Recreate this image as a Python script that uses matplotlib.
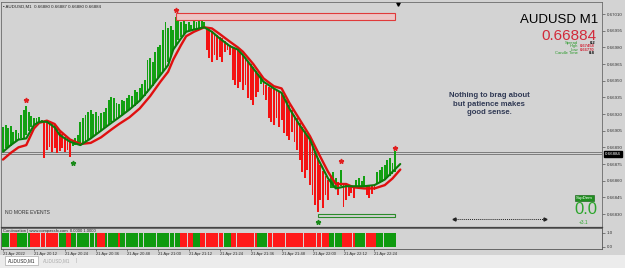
import matplotlib
matplotlib.use('Agg')
import matplotlib.pyplot as plt
import matplotlib.transforms as mtransforms
from matplotlib.patches import Rectangle
import numpy as np

W, H = 625, 268
plt.rcParams['font.family'] = ['Liberation Sans', 'DejaVu Sans']

# --- M1 bars, prices in 1e-5 units ---
lows = [66887, 66889, 66890, 66891, 66894, 66896, 66897, 66898, 66898, 66901, 66905, 66908, 66910, 66912, 66913, 66913,
        66880, 66888, 66890, 66886, 66889, 66885, 66887, 66889, 66886, 66888, 66881,
        66891, 66892, 66892, 66893, 66894, 66895, 66897, 66898, 66899, 66901, 66903, 66905, 66907, 66909, 66911, 66913,
        66915, 66916, 66916, 66918, 66920, 66922, 66924, 66925, 66927, 66929, 66932, 66934, 66936, 66939, 66943, 66945,
        66949, 66952, 66955, 66959, 66962, 66967, 66971, 66978, 66982, 66987, 66989, 66992, 66994, 66995, 66995, 66996,
        66997, 66997, 66997, 66998,
        66978, 66970, 66967, 66973, 66969, 66971, 66967, 66976, 66978, 66973, 66951, 66946, 66943, 66949, 66942, 66946,
        66934, 66933, 66928, 66935, 66940, 66947, 66937, 66933, 66916, 66913, 66910, 66916, 66908, 66915, 66903, 66900,
        66897, 66904, 66895, 66888, 66879, 66868, 66862, 66870, 66856, 66847, 66838, 66832, 66843, 66835, 66847, 66843,
        66853, 66853, 66853, 66847, 66855, 66836, 66843, 66846, 66849, 66844, 66853, 66853, 66854, 66854, 66847, 66844,
        66848, 66852, 66857, 66858, 66859, 66861, 66862, 66864, 66866, 66868]
highs = [66908, 66910, 66907, 66909, 66904, 66906, 66903, 66919, 66924, 66927, 66922, 66918, 66916, 66916, 66917, 66915,
         66914, 66914, 66914, 66913, 66911, 66907, 66905, 66902, 66899, 66898, 66897,
         66897, 66898, 66901, 66913, 66916, 66919, 66922, 66924, 66920, 66922, 66918, 66921, 66922, 66925, 66933, 66935,
         66934, 66930, 66929, 66933, 66932, 66934, 66937, 66936, 66942, 66940, 66943, 66947, 66951, 66969, 66970, 66967,
         66976, 66980, 66982, 66996, 67003, 66997, 66999, 66996, 67007, 67006, 67003, 67005, 67001, 67003, 67000, 67005,
         67003, 67004, 67005, 67003,
         66997, 66997, 66995, 66993, 66991, 66989, 66988, 66986, 66984, 66982, 66980, 66979, 66978, 66976, 66973, 66970,
         66968, 66965, 66962, 66959, 66956, 66955, 66949, 66946, 66944, 66943, 66943, 66942, 66941, 66939, 66936, 66933,
         66928, 66924, 66919, 66916, 66912, 66908, 66905, 66901, 66897, 66892, 66886, 66880, 66874, 66869, 66864, 66861,
         66864, 66868, 66862, 66859, 66870, 66858, 66857, 66856, 66856, 66855, 66861, 66862, 66860, 66864, 66856, 66855,
         66856, 66857, 66868, 66870, 66872, 66874, 66879, 66880, 66876, 66887]
bar_runs = [('g', 16), ('r', 11), ('g', 52), ('r', 21), ('g', 1), ('r', 26), ('g', 3), ('r', 1), ('g', 1),
            ('r', 5), ('g', 4), ('r', 4), ('g', 8)]

# moving averages (green fast, red slow)
ma_bars = [0, 3, 6, 9, 12, 14, 17, 20, 22, 26, 30, 34, 38, 42, 45, 49, 53, 57, 61, 64, 66, 69, 71, 74, 78, 81,
           84, 88, 91, 93, 97, 101, 105, 108, 111, 115, 119, 122, 126, 129, 133, 136, 140, 144, 148, 151, 154]
ma_fast = [66886, 66892, 66897, 66898, 66910, 66913, 66913, 66908, 66901, 66895, 66892, 66898, 66905, 66912, 66917,
           66924, 66932, 66943, 66955, 66964, 66978, 66988, 66994, 66996, 66998, 66994, 66988, 66981, 66978, 66973,
           66961, 66949, 66943, 66939, 66925, 66910, 66897, 66880, 66862, 66853, 66855, 66855, 66855, 66856, 66861,
           66868, 66875]
ma_slow = [66879, 66885, 66890, 66892, 66907, 66912, 66914, 66911, 66905, 66897, 66893, 66894, 66899, 66906, 66911,
           66917, 66925, 66936, 66949, 66958, 66969, 66982, 66990, 66994, 66998, 66997, 66992, 66985, 66980, 66976,
           66965, 66952, 66945, 66943, 66930, 66915, 66900, 66886, 66868, 66857, 66857, 66854, 66853, 66853, 66856,
           66862, 66870]

# signal arrows
sell_bars = [9, 67, 131, 152]
sell_px = [0.66933, 0.67014, 0.66878, 0.66889]
buy_bars = [27, 122]
buy_px = [0.66876, 0.66823]

# supply / demand zones
zone_start = [67, 122]
zone_end = [152, 152]
zone_lo = [0.67005, 0.66827]
zone_hi = [0.67011, 0.66830]

# continuation sub-window
sub_runs = [('g', 3), ('r', 3), ('g', 5), ('r', 11), ('g', 3), ('r', 2), ('g', 10), ('r', 3), ('g', 5), ('r', 1),
            ('g', 23), ('r', 5), ('g', 3), ('r', 9), ('g', 3), ('r', 10), ('g', 4), ('r', 24), ('g', 5), ('r', 5),
            ('g', 4), ('r', 4), ('g', 8)]

price_ticks = [0.67010, 0.66995, 0.66980, 0.66965, 0.66950, 0.66935, 0.66920, 0.66905, 0.66890, 0.66875,
               0.66860, 0.66845, 0.66830]
time_ticks = [0, 12, 24, 36, 48, 60, 72, 84, 96, 108, 120, 132, 144]
time_labels = ['21 Apr 2022', '21 Apr 20:12', '21 Apr 20:24', '21 Apr 20:36', '21 Apr 20:48', '21 Apr 21:00',
               '21 Apr 21:12', '21 Apr 21:24', '21 Apr 21:36', '21 Apr 21:48', '21 Apr 22:00', '21 Apr 22:12',
               '21 Apr 22:24']
bid = 0.66884
ask = 0.66886

BG = '#d3d3d3'
GREEN = '#12a012'
RED = '#f41212'


def expand(runs):
    out = []
    for c, n in runs:
        out += [c] * n
    return out


def fx(x):
    return x / W


def fy(y):
    return 1 - y / H


lo = np.array(lows) / 1e5
hi = np.array(highs) / 1e5
cols = [GREEN if c == 'g' else RED for c in expand(bar_runs)]
idx = np.arange(len(lo))

fig = plt.figure(figsize=(W / 100, H / 100), dpi=100, facecolor=BG)

ax = fig.add_axes([fx(1), fy(227), 601 / W, 225 / H], facecolor=BG)
ax.set_xlim(-0.78, 232.2)
ax.set_ylim(0.668183, 0.670208)

ax.axhline(bid, color='#7c7c7c', lw=0.7, zorder=1)
ax.axhline(ask, color='#7c7c7c', lw=0.7, zorder=1)

ax.bar(idx, hi - lo, bottom=lo, width=0.72, color=cols, linewidth=0, zorder=2)
ax.plot(ma_bars, np.array(ma_slow) / 1e5, color='#e01010', lw=1.7, zorder=3, solid_capstyle='round')
ax.plot(ma_bars, np.array(ma_fast) / 1e5, color='#0b7a0b', lw=1.5, zorder=4, solid_capstyle='round')

ax.plot(sell_bars, sell_px, ls='none', marker='*', ms=3.5, color='#e02020', zorder=5)
ax.plot(buy_bars, buy_px, ls='none', marker='*', ms=3.5, color='#1a8a1a', zorder=5)

ax.add_patch(Rectangle((zone_start[0], zone_lo[0]), zone_end[0] - zone_start[0], zone_hi[0] - zone_lo[0],
                       facecolor='#ecc6c6', edgecolor='#e03a3a', lw=0.8, zorder=2))
ax.add_patch(Rectangle((zone_start[1], zone_lo[1]), zone_end[1] - zone_start[1], zone_hi[1] - zone_lo[1],
                       facecolor=BG, edgecolor='#2a8a2a', lw=0.8, zorder=2))

# dotted range arrow
ax.plot([175, 210], [0.668255, 0.668255], ls=(0, (1, 1)), color='#222222', lw=0.7)
ax.plot([175], [0.668255], marker='<', ms=2.2, color='#222222')
ax.plot([210], [0.668255], marker='>', ms=2.2, color='#222222')

# chart shift marker
trans = mtransforms.blended_transform_factory(ax.transData, ax.transAxes)
ax.plot([153], [0.99], marker='v', ms=2.5, color='black', transform=trans, clip_on=False)

ax.set_xticks([])
ax.yaxis.tick_right()
ax.set_yticks(price_ticks)
ax.set_yticklabels(['%.5f' % p for p in price_ticks])
ax.tick_params(axis='y', labelsize=3.2, length=2, pad=1.5, colors='#333333', width=0.4)
for s in ax.spines.values():
    s.set_color('#6a6a6a')
    s.set_linewidth(0.6)
ax.spines['bottom'].set_color('#444444')
ax.spines['bottom'].set_linewidth(0.9)

ax.annotate('0.66884', xy=(1.0, bid), xycoords=('axes fraction', 'data'), xytext=(2, 0),
            textcoords='offset points', ha='left', va='center', fontsize=3.2, color='white',
            bbox=dict(boxstyle='square,pad=0.25', fc='black', ec='black'))

# sub-window
ax2 = fig.add_axes([fx(1), fy(249), 601 / W, 21 / H], facecolor=BG)
ax2.set_xlim(-0.78, 232.2)
ax2.set_ylim(-0.143, 1.357)
sub_cols = ['#0f9a0f' if c == 'g' else '#ff1a1a' for c in expand(sub_runs)]
ax2.bar(np.arange(len(sub_cols)), 1, width=0.92, color=sub_cols, linewidth=0)
ax2.yaxis.tick_right()
ax2.set_yticks([1.0, 0.0])
ax2.set_yticklabels(['1.0', '0.0'])
ax2.tick_params(axis='y', labelsize=3.2, length=2, pad=1.5, colors='#333333', width=0.4)
ax2.set_xticks(time_ticks)
ax2.set_xticklabels(time_labels, ha='left')
ax2.tick_params(axis='x', labelsize=3.0, length=1.5, pad=1, colors='#333333', width=0.4)
for s in ax2.spines.values():
    s.set_color('#555555')
    s.set_linewidth(0.6)

# texts
fig.text(fx(3), fy(6.5), '\u25aa AUDUSD,M1  0.66880 0.66887 0.66880 0.66884', fontsize=3.2, color='#222222',
         ha='left', va='center')
fig.text(fx(3), fy(231), 'Continuation | www.compassfx.com  0.0000 1.0000', fontsize=3.0, color='#222222',
         ha='left', va='center')
fig.text(fx(5), fy(213), 'NO MORE EVENTS', fontsize=3.6, color='#333333', ha='left', va='center')

fig.text(fx(598), fy(20), 'AUDUSD M1', fontsize=9.5, color='black', ha='right', va='center')
fig.text(fx(596), fy(36.5), '0.66884', fontsize=11, color='#d22a3a', ha='right', va='center')
info = [('Spread', '0.2', 'black', 43), ('High', '0.67458', '#d22a3a', 46.3),
        ('Low', '0.66770', '#d22a3a', 49.6), ('Candle Time', '0:8', 'black', 52.9)]
for lab, val, vc, yy in info:
    fig.text(fx(578), fy(yy), lab, fontsize=3.0, color='#2a9a2a', ha='right', va='center')
    fig.text(fx(595), fy(yy), val, fontsize=3.0, color=vc, ha='right', va='center', weight='bold')

fig.text(fx(489), fy(104), 'Nothing to brag about\nbut patience makes\ngood sense.', fontsize=5.6,
         weight='bold', color='#313a55', ha='center', va='center', linespacing=1.25)

fig.text(fx(584.5), fy(198), 'SupDem', fontsize=3.2, color='white', ha='center', va='center',
         bbox=dict(boxstyle='square,pad=0.3', fc='#1f8f1f', ec='#0d5d0d', lw=0.4))
fig.text(fx(597), fy(210), '0.0', fontsize=12, color='#2ba52b', ha='right', va='center')
fig.text(fx(584), fy(222), '+3.1', fontsize=3.4, color='#2ba52b', ha='center', va='center')

# tab bar
fig.patches.append(Rectangle((0, 0), 1, fy(255), transform=fig.transFigure, facecolor='#ececec',
                             edgecolor='none', zorder=-1))
fig.patches.append(Rectangle((fx(5), fy(265)), fx(33), 9 / H, transform=fig.transFigure, facecolor='white',
                             edgecolor='#9a9a9a', lw=0.4))
fig.text(fx(21.5), fy(260.5), 'AUDUSD,M1', fontsize=3.3, color='#222222', ha='center', va='center')
fig.text(fx(57), fy(260.5), 'AUDUSD,M1', fontsize=3.3, color='#a8a8a8', ha='center', va='center')
fig.text(fx(76), fy(260.5), '|', fontsize=3.3, color='#a8a8a8', ha='center', va='center')

fig.savefig('out.png', dpi=100, facecolor=BG)
